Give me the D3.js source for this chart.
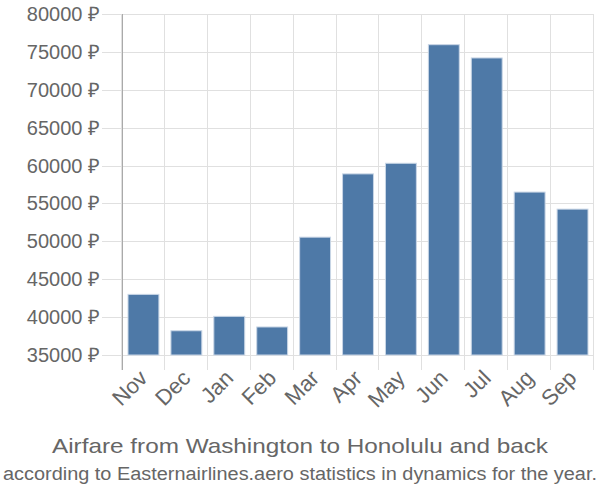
<!DOCTYPE html>
<html>
<head>
<meta charset="utf-8">
<script src="https://cdn.jsdelivr.net/npm/d3@7"></script>
<style>
  body { margin: 0; background: #fff; }
  text { font-family: "Liberation Sans", Arial, sans-serif; fill: #666; }
</style>
</head>
<body>
<svg id="chart" width="600" height="500"></svg>
<script>
const months = ["Nov", "Dec", "Jan", "Feb", "Mar", "Apr", "May", "Jun", "Jul", "Aug", "Sep"];
const prices = [43000, 38200, 40100, 38700, 50550, 58900, 60300, 75950, 74200, 56500, 54250];
const yTicks = [35000, 40000, 45000, 50000, 55000, 60000, 65000, 70000, 75000, 80000];

const svg = d3.select("#chart");
const plotLeft = 122, plotRight = 594, plotTop = 14, plotBottom = 355;

const x = d3.scaleBand().domain(months).range([plotLeft, plotRight]).paddingInner(0.28).paddingOuter(0.14);
const y = d3.scaleLinear().domain([35000, 80000]).range([plotBottom, plotTop]);

const step = x.step();

// horizontal grid
svg.append("g")
  .selectAll("line")
  .data(yTicks)
  .join("line")
  .attr("x1", plotLeft - 20)
  .attr("x2", plotRight)
  .attr("y1", d => Math.round(y(d)) + 0.5)
  .attr("y2", d => Math.round(y(d)) + 0.5)
  .attr("stroke", "#e0e0e0")
  .attr("stroke-width", 1);

// vertical grid at band edges
const edges = months.map((m, i) => plotLeft + i * step).concat([plotRight]);
svg.append("g")
  .selectAll("line")
  .data(edges)
  .join("line")
  .attr("x1", d => Math.round(d) - 0.5)
  .attr("x2", d => Math.round(d) - 0.5)
  .attr("y1", plotTop)
  .attr("y2", plotBottom + 15)
  .attr("stroke", "#e0e0e0")
  .attr("stroke-width", 1);

// y axis line
svg.append("line")
  .attr("x1", plotLeft + 0.5).attr("x2", plotLeft + 0.5)
  .attr("y1", plotTop).attr("y2", plotBottom + 15)
  .attr("stroke", "#aaa");

// bars
svg.append("g")
  .selectAll("rect")
  .data(prices)
  .join("rect")
  .attr("x", (d, i) => x(months[i]))
  .attr("width", x.bandwidth())
  .attr("y", d => y(d))
  .attr("height", d => plotBottom - y(d))
  .attr("fill", "#4e79a7")
  .attr("stroke", "#c9d6e6")
  .attr("stroke-width", 1);

// y labels
svg.append("g")
  .selectAll("text")
  .data(yTicks)
  .join("text")
  .attr("x", plotLeft - 22)
  .attr("y", d => y(d))
  .attr("dy", "0.35em")
  .attr("text-anchor", "end")
  .style("font-size", "20px")
  .text(d => d + " \u20BD");

// x labels
svg.append("g")
  .selectAll("text")
  .data(months)
  .join("text")
  .attr("transform", d => `translate(${x(d) + x.bandwidth() / 2},${plotBottom + 19}) rotate(-45)`)
  .attr("text-anchor", "end")
  .attr("dy", "0.35em")
  .style("font-size", "22px")
  .text(d => d);

// titles
svg.append("text")
  .attr("x", 300).attr("y", 453)
  .attr("text-anchor", "middle")
  .attr("textLength", 496)
  .attr("lengthAdjust", "spacingAndGlyphs")
  .style("font-size", "21px")
  .text("Airfare from Washington to Honolulu and back");

svg.append("text")
  .attr("x", 300).attr("y", 480)
  .attr("text-anchor", "middle")
  .attr("textLength", 594)
  .attr("lengthAdjust", "spacingAndGlyphs")
  .style("font-size", "18px")
  .text("according to Easternairlines.aero statistics in dynamics for the year.");
</script>
</body>
</html>
